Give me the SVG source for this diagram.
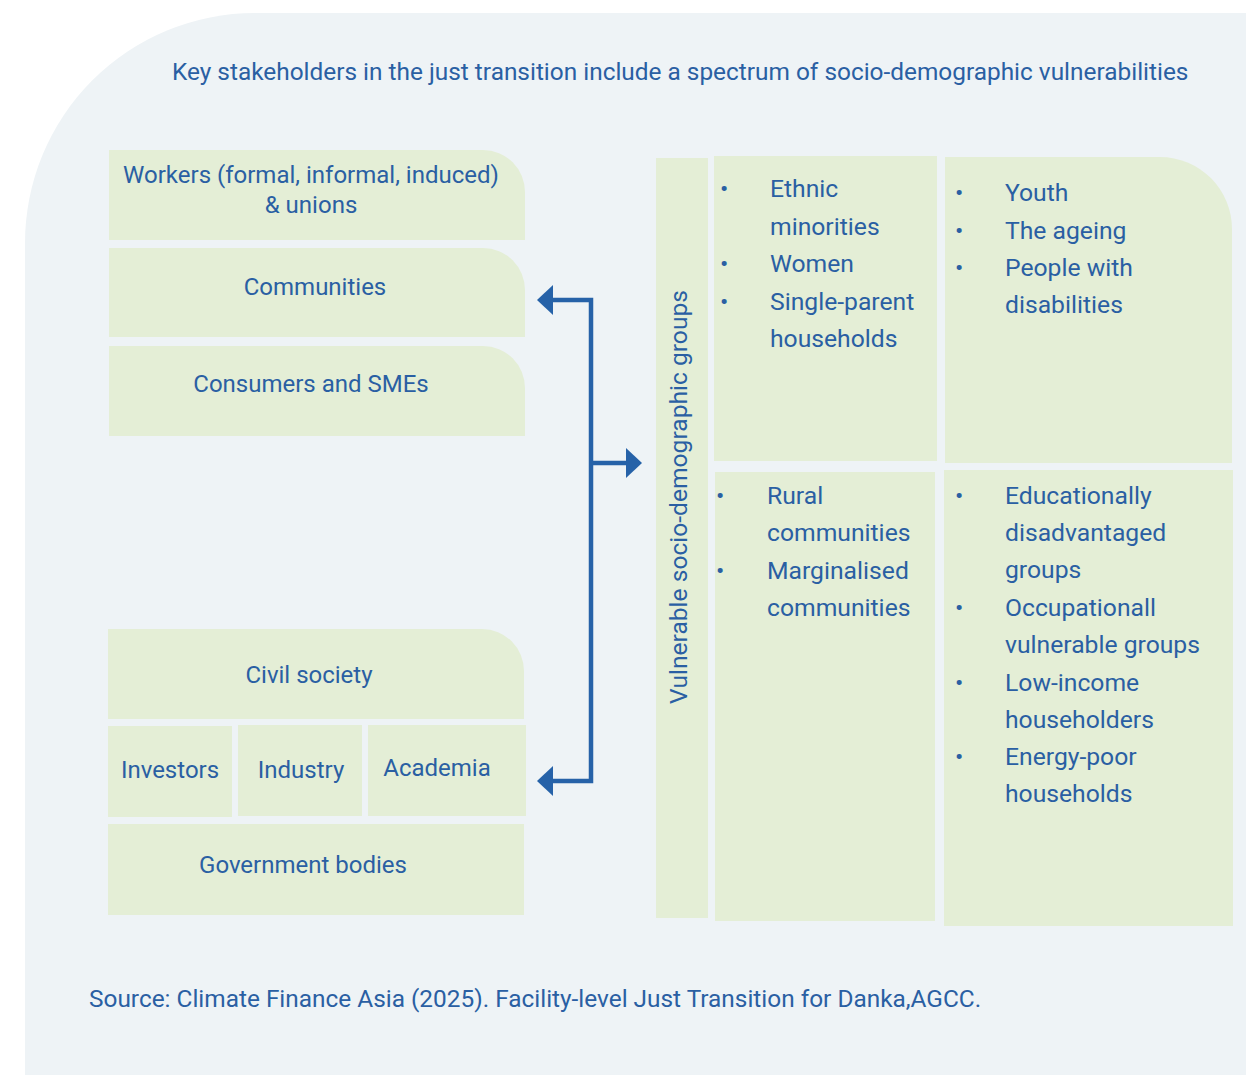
<svg xmlns="http://www.w3.org/2000/svg" width="1246" height="1075" viewBox="0 0 1246 1075">
  <defs>
    <style>
      .panel { fill: #EEF3F6; }
      .box { fill: #E4EED6; }
      .lbl { font-family: Roboto, "Liberation Sans", sans-serif; font-size: 24px; fill: #2A5FA3; }
      .c { text-anchor: middle; }
      .vert { font-size: 24.6px; }
      .item { font-family: Roboto, "Liberation Sans", sans-serif; font-size: 24.7px; fill: #2A5FA3; }
      .title { font-family: Roboto, "Liberation Sans", sans-serif; font-size: 24.4px; fill: #2A5FA3; }
      .link { fill: none; stroke: #2662A8; stroke-width: 4.5; stroke-linejoin: miter; }
    </style>
    <marker id="head" viewBox="0 0 16 30" refX="0" refY="15" markerWidth="16" markerHeight="30" markerUnits="userSpaceOnUse" orient="auto-start-reverse">
      <path d="M0,0 L16,15 L0,30 Z" fill="#2662A8"/>
    </marker>
  </defs>

  <!-- background panel with large rounded top-left corner -->
  <path class="panel" d="M25,1075 V243 A230,230 0 0 1 255,13 H1246 V1075 Z"/>

  <text class="title" x="172" y="80">Key stakeholders in the just transition include a spectrum of socio-demographic vulnerabilities</text>

  <!-- stakeholder groups (left) -->
  <g id="workers">
    <path class="box" d="M109,150 H483 A42,42 0 0 1 525,192 V240 H109 Z"/>
    <text class="lbl c" x="311" y="183">Workers (formal, informal, induced)</text>
    <text class="lbl c" x="311" y="213">&amp; unions</text>
  </g>
  <g id="communities">
    <path class="box" d="M109,248 H483 A42,42 0 0 1 525,290 V337 H109 Z"/>
    <text class="lbl c" x="315" y="295">Communities</text>
  </g>
  <g id="consumers">
    <path class="box" d="M109,346 H483 A42,42 0 0 1 525,388 V436 H109 Z"/>
    <text class="lbl c" x="311" y="392">Consumers and SMEs</text>
  </g>
  <g id="civil-society">
    <path class="box" d="M108,629 H482 A42,42 0 0 1 524,671 V719 H108 Z"/>
    <text class="lbl c" x="309" y="683">Civil society</text>
  </g>
  <g id="investors">
    <rect class="box" x="108" y="726" width="124" height="91"/>
    <text class="lbl c" x="170" y="778">Investors</text>
  </g>
  <g id="industry">
    <rect class="box" x="238" y="725" width="124" height="91"/>
    <text class="lbl c" x="301" y="778">Industry</text>
  </g>
  <g id="academia">
    <rect class="box" x="368" y="725" width="158" height="91"/>
    <text class="lbl c" x="437" y="776">Academia</text>
  </g>
  <g id="government">
    <rect class="box" x="108" y="824" width="416" height="91"/>
    <text class="lbl c" x="303" y="873">Government bodies</text>
  </g>

  <!-- connectors -->
  <g id="connectors">
    <path class="link" d="M553,300 H591 V781 H553" marker-start="url(#head)" marker-end="url(#head)"/>
    <path class="link" d="M591,463 H626" marker-end="url(#head)"/>
  </g>

  <!-- vulnerable groups (right) -->
  <g id="vulnerable-groups">
    <rect class="box" x="656" y="158" width="52" height="760"/>
    <text class="lbl c vert" transform="translate(687,497) rotate(-90)">Vulnerable socio-demographic groups</text>
  </g>
  <g id="cell-ethnic">
    <rect class="box" x="714" y="156" width="223" height="305"/>
    <text class="item">
      <tspan x="720" y="197">•</tspan><tspan x="770" y="197">Ethnic</tspan>
      <tspan x="770" y="235">minorities</tspan>
      <tspan x="720" y="272">•</tspan><tspan x="770" y="272">Women</tspan>
      <tspan x="720" y="310">•</tspan><tspan x="770" y="310">Single-parent</tspan>
      <tspan x="770" y="347">households</tspan>
    </text>
  </g>
  <g id="cell-youth">
    <path class="box" d="M945,157 H1160 A72,72 0 0 1 1232,229 V463 H945 Z"/>
    <text class="item">
      <tspan x="955" y="201">•</tspan><tspan x="1005" y="201">Youth</tspan>
      <tspan x="955" y="239">•</tspan><tspan x="1005" y="239">The ageing</tspan>
      <tspan x="955" y="276">•</tspan><tspan x="1005" y="276">People with</tspan>
      <tspan x="1005" y="313">disabilities</tspan>
    </text>
  </g>
  <g id="cell-rural">
    <rect class="box" x="715" y="472" width="220" height="449"/>
    <text class="item">
      <tspan x="716" y="504">•</tspan><tspan x="767" y="504">Rural</tspan>
      <tspan x="767" y="541">communities</tspan>
      <tspan x="716" y="579">•</tspan><tspan x="767" y="579">Marginalised</tspan>
      <tspan x="767" y="616">communities</tspan>
    </text>
  </g>
  <g id="cell-education">
    <rect class="box" x="944" y="470" width="289" height="456"/>
    <text class="item">
      <tspan x="955" y="504">•</tspan><tspan x="1005" y="504">Educationally</tspan>
      <tspan x="1005" y="541">disadvantaged</tspan>
      <tspan x="1005" y="578">groups</tspan>
      <tspan x="955" y="616">•</tspan><tspan x="1005" y="616">Occupationall</tspan>
      <tspan x="1005" y="653">vulnerable groups</tspan>
      <tspan x="955" y="691">•</tspan><tspan x="1005" y="691">Low-income</tspan>
      <tspan x="1005" y="728">householders</tspan>
      <tspan x="955" y="765">•</tspan><tspan x="1005" y="765">Energy-poor</tspan>
      <tspan x="1005" y="802">households</tspan>
    </text>
  </g>

  <text class="title" x="89" y="1007">Source: Climate Finance Asia (2025). Facility-level Just Transition for Danka,AGCC.</text>
</svg>
